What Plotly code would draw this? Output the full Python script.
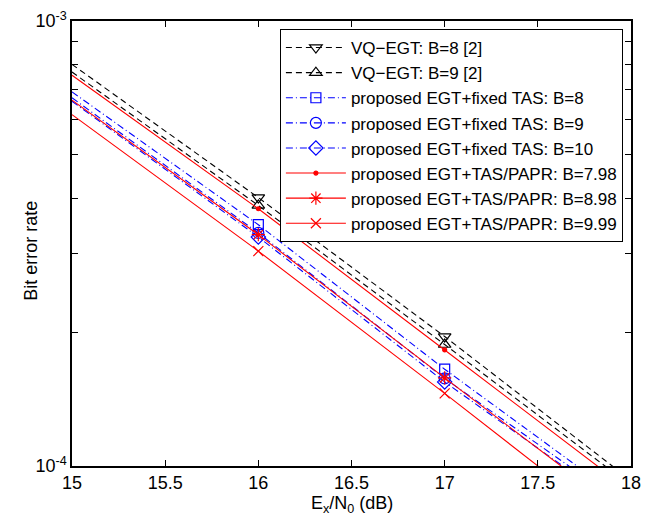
import plotly.graph_objects as go

# Eb/N0 grid (dB)
snr = [15, 16, 17, 18]

# Bit error rate values
vq_b8 = [7.99e-4, 4.01e-4, 1.954e-4, 9.28e-5]
vq_b9 = [7.68e-4, 3.85e-4, 1.875e-4, 9.03e-5]
fixed_b8 = [6.93e-4, 3.485e-4, 1.650e-4, 8.15e-5]
fixed_b9 = [6.72e-4, 3.34e-4, 1.573e-4, 7.97e-5]
fixed_b10 = [6.60e-4, 3.27e-4, 1.545e-4, 7.78e-5]
papr_b798 = [7.55e-4, 3.785e-4, 1.823e-4, 8.76e-5]
papr_b898 = [6.64e-4, 3.31e-4, 1.578e-4, 7.60e-5]
papr_b999 = [6.16e-4, 3.04e-4, 1.456e-4, 6.87e-5]

marked = [1, 2]  # markers only shown at 16 dB and 17 dB

x_ticks = [15, 15.5, 16, 16.5, 17, 17.5, 18]
x_ticktext = ["15", "15.5", "16", "16.5", "17", "17.5", "18"]
y_ticks = [1e-4, 1e-3]
y_ticktext = ["10<sup>-4</sup>", "10<sup>-3</sup>"]
y_minor = [2e-4, 3e-4, 4e-4, 5e-4, 6e-4, 7e-4, 8e-4, 9e-4]

BLACK = "#000000"
BLUE = "#0000ff"
RED = "#ff0000"
DASH = "6px,4px"
DASHDOT = "7px,3px,1px,3px"

series = [
    ("VQ\u2212EGT: B=8 [2]", vq_b8, BLACK, DASH, "triangle-down-open", 11),
    ("VQ\u2212EGT: B=9 [2]", vq_b9, BLACK, DASH, "triangle-up-open", 11),
    ("proposed EGT+fixed TAS: B=8", fixed_b8, BLUE, DASHDOT, "square-open", 10),
    ("proposed EGT+fixed TAS: B=9", fixed_b9, BLUE, DASHDOT, "circle-open", 11),
    ("proposed EGT+fixed TAS: B=10", fixed_b10, BLUE, DASHDOT, "diamond-open", 11),
    ("proposed EGT+TAS/PAPR: B=7.98", papr_b798, RED, "solid", "circle", 4),
    ("proposed EGT+TAS/PAPR: B=8.98", papr_b898, RED, "solid", "asterisk-open", 11),
    ("proposed EGT+TAS/PAPR: B=9.99", papr_b999, RED, "solid", "x-thin-open", 10),
]

fig = go.Figure()
for name, vals, col, dash, sym, size in series:
    fig.add_trace(go.Scatter(
        x=snr, y=vals, name=name, mode="lines+markers",
        line=dict(color=col, width=1.1, dash=dash),
        marker=dict(symbol=sym, size=size, color=col, line=dict(color=col, width=1.2)),
        selectedpoints=marked,
        unselected=dict(marker=dict(opacity=0)),
        selected=dict(marker=dict(opacity=1)),
    ))

FONT = "Liberation Sans, Arial, Helvetica, sans-serif"

fig.update_layout(
    width=650, height=521,
    margin=dict(l=72, r=9, t=18, b=55),
    paper_bgcolor="white", plot_bgcolor="white",
    font=dict(family=FONT, size=18, color="black"),
    showlegend=True,
    legend=dict(
        x=0.9855, y=0.982, xanchor="right", yanchor="top",
        bgcolor="white", bordercolor="black", borderwidth=1,
        font=dict(family=FONT, size=17, color="black"),
        itemwidth=60, tracegroupgap=0,
    ),
    xaxis=dict(
        range=[15, 18], tickvals=x_ticks, ticktext=x_ticktext,
        ticks="inside", ticklen=6, tickcolor="black",
        showline=True, linecolor="black", linewidth=1.5, mirror="ticks",
        showgrid=False, zeroline=False,
    ),
    yaxis=dict(
        type="log", range=[-4, -3], tickvals=y_ticks, ticktext=y_ticktext,
        ticks="inside", ticklen=6, tickcolor="black",
        minor=dict(tickvals=y_minor, ticks="inside", ticklen=6, tickcolor="black", showgrid=False),
        showline=True, linecolor="black", linewidth=1.5, mirror="ticks",
        showgrid=False, zeroline=False,
    ),
    annotations=[
        dict(
            text="Bit error rate", textangle=-90, showarrow=False,
            xref="paper", yref="paper", x=-0.0738, y=0.483,
            xanchor="center", yanchor="middle",
            font=dict(family=FONT, size=18, color="black"),
        ),
        dict(
            text="E<sub>x</sub>/N<sub>0</sub> (dB)", showarrow=False,
            xref="paper", yref="paper", x=0.5, y=-0.087,
            xanchor="center", yanchor="middle",
            font=dict(family=FONT, size=18, color="black"),
        ),
    ],
)

fig.write_html("out.html")
